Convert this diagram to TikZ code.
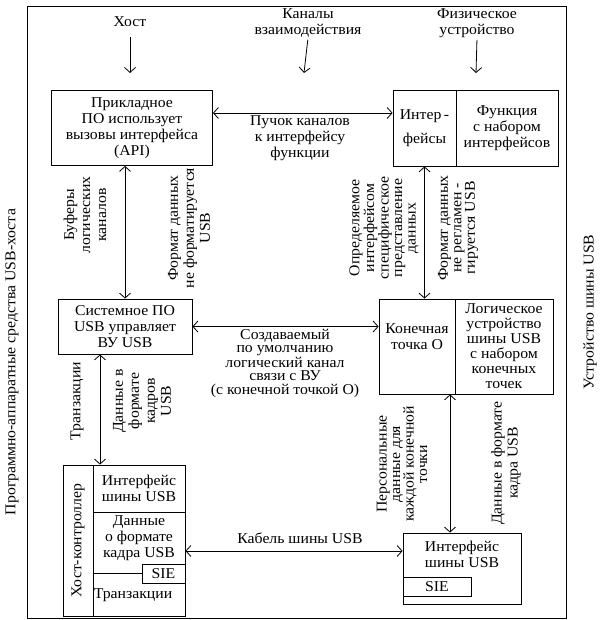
\documentclass[tikz,border=0pt]{standalone}
\usepackage{fontspec}
\setmainfont{Liberation Serif}[FakeStretch=1.05]
\usetikzlibrary{arrows.meta}

\tikzset{
  blok/.style={draw, inner sep=0pt, align=center},
  lbl/.style={align=center, inner sep=0pt},
  vlbl/.style={align=center, inner sep=0pt, rotate=90},
  tight/.style={font=\fontsize{15}{13.5}\selectfont},
}

\begin{document}
\begin{tikzpicture}[x=1pt, y=-1pt, line width=0.8pt,
    >={Straight Barb[length=5pt,width=11pt]},
    font=\fontsize{15}{16}\selectfont]

  \useasboundingbox (0,0) rectangle (610,620);
  \draw (27,6) rectangle (566,618);

  % side captions
  \node[vlbl] (hostside) at (12,362) {Программно-аппаратные средства USB-хоста};
  \node[vlbl] (devside) at (590,312) {Устройство шины USB};

  % top row
  \node[lbl] (host) at (130,22) {Хост};
  \node[lbl] (chan) at (308,23) {Каналы\\взаимодействия};
  \node[lbl] (phys) at (477,23) {Физическое\\устройство};
  \coordinate (hostE) at (130,73);
  \coordinate (chanE) at (304,73);
  \coordinate (physE) at (476,73);
  \draw[->, shorten <=10pt] (host.south) -- (hostE);
  \draw[->, shorten <=2pt] (chan.south) -- (chanE);
  \draw[->, shorten <=2pt] (phys.south) -- (physE);

  % function level
  \node[blok, minimum width=161pt, minimum height=75pt] (app) at (132,128)
    {Прикладное\\ПО использует\\вызовы интерфейса\\(API)};
  \node[blok, minimum width=63pt, minimum height=76pt] (ifL) at (424.5,128)
    {Интер\,-\\[8pt]фейсы};
  \node[blok, minimum width=102pt, minimum height=76pt] (ifR) at (507,128)
    {Функция\\с набором\\интерфейсов};

  \draw[<->] ([yshift=15pt]app.east) -- ([yshift=15pt]app.east -| ifL.west);
  \node[lbl] (bundle) at (300,138) {Пучок каналов\\к интерфейсу\\функции};

  % device level
  \node[blok, minimum width=134pt, minimum height=55pt] (sys) at (125,326.5)
    {Системное ПО\\USB управляет\\ВУ USB};
  \node[blok, minimum width=76pt, minimum height=95pt] (epL) at (417,346.5) {};
  \node[lbl] (epT) at (417,337) {Конечная\\точка О};
  \node[blok, minimum width=98pt, minimum height=95pt,
    font=\fontsize{15}{15}\selectfont] (epR) at (504,346.5)
    {Логическое\\устройство\\шины USB\\с набором\\конечных\\точек};

  \draw[<->] (app.south -| sys.north) -- (sys.north);
  \node[vlbl] (buf) at (85,215) {Буферы\\логических\\каналов};
  \node[vlbl] (fmt1) at (189,228) {Формат данных\\не форматируется\\USB};

  \draw[<->] (ifL.south) -- (ifL.south |- epL.north);
  \node[vlbl, tight] (spec) at (384,228)
    {Определяемое\\интерфейсом\\специфическое\\представление\\данных};
  \node[vlbl, tight] (fmt2) at (458,228) {Формат данных\\не регламен -\\гируется USB};

  \draw[<->] (sys.east) -- (sys.east -| epL.west);
  \node[lbl, tight] (defpipe) at (285,363)
    {Создаваемый\\по умолчанию\\логический канал\\связи с ВУ\\(с конечной точкой О)};

  % bus level
  \node[blok, rotate=90, minimum width=151pt, minimum height=30pt] (hcL) at (78,540.5)
    {Хост-контроллер};
  \node[blok, minimum width=92pt, minimum height=47pt] (hcT) at (139,488.5)
    {Интерфейс\\шины USB};
  \node[blok, minimum width=92pt, minimum height=104pt] (hcB) at (139,564) {};
  \node[lbl] (hcD) at (139,538) {Данные\\о формате\\кадра USB};
  \node[blok, minimum width=43pt, minimum height=19pt] (sie1) at (163.5,573.5) {SIE};
  \draw (sie1.west -| hcB.west) -- (sie1.west);
  \node[lbl] (hcTr) at (133,595) {Транзакции};

  \node[blok, minimum width=118pt, minimum height=71pt] (bus) at (462,568.5) {};
  \node[lbl] (busT) at (462,554) {Интерфейс\\шины USB};
  \node[blok, minimum width=68pt, minimum height=19pt] (sie2) at (437,586.5) {SIE};

  \draw[<->] ([xshift=-25pt]sys.south) -- ([xshift=-25pt]sys.south |- hcT.north);
  \node[vlbl] (tr) at (77,401) {Транзакции};
  \node[vlbl] (frm1) at (142,401) {Данные в\\формате\\кадров\\USB};

  \draw[<->] ([xshift=33pt]epL.south) -- ([xshift=33pt]epL.south |- bus.north);
  \node[vlbl, tight] (pers) at (402,464) {Персональные\\данные для\\каждой конечной\\точки};
  \node[vlbl] (frm2) at (506,463) {Данные в формате\\кадра USB};

  \draw[<->] ([yshift=13pt]hcB.east) -- ([yshift=13pt]hcB.east -| bus.west);
  \node[lbl] (cable) at (300,538) {Кабель шины USB};

\end{tikzpicture}
\end{document}
